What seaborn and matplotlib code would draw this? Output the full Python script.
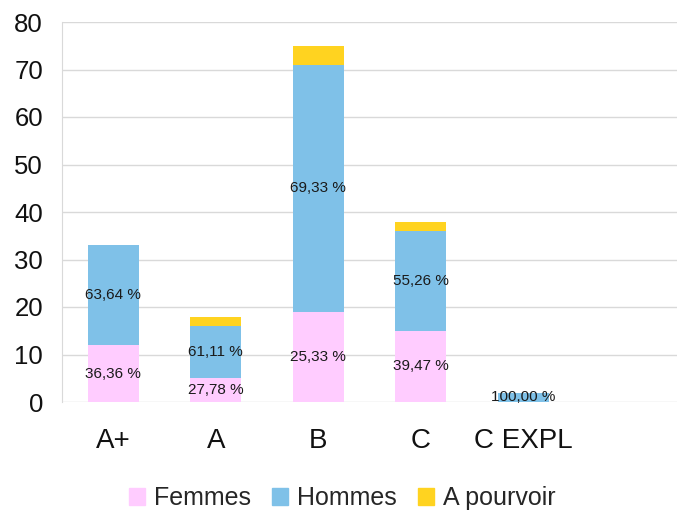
import numpy as np
import pandas as pd
import matplotlib
matplotlib.use('Agg')
import matplotlib.pyplot as plt
import seaborn as sns
from matplotlib.patches import Patch
from matplotlib.ticker import FixedLocator

# ─── données ───
categories = ['A+', 'A', 'B', 'C', 'C EXPL']
femmes = [12, 5, 19, 15, 0]
hommes = [21, 11, 52, 21, 2]
a_pourvoir = [0, 2, 4, 2, 0]

COL_F = '#ffccff'
COL_H = '#7fc1e8'
COL_P = '#ffd320'
GRID = '#d9d9d9'

sns.set_style('white')
plt.rcParams['font.family'] = ['Liberation Sans', 'DejaVu Sans']

df = pd.DataFrame({'cat': categories, 'Femmes': femmes,
                   'Hommes': hommes, 'A pourvoir': a_pourvoir})
df['fh'] = df['Femmes'] + df['Hommes']
df['total'] = df['fh'] + df['A pourvoir']

fig = plt.figure(figsize=(6.84, 5.13), dpi=100)
ax = fig.add_axes([62 / 684, 1 - 402 / 513, 615 / 684, 380 / 513])

# empilement : total, puis F+H, puis F par-dessus
sns.barplot(data=df, x='cat', y='total', color=COL_P, width=0.5,
            saturation=1, linewidth=0, ax=ax, zorder=3)
sns.barplot(data=df, x='cat', y='fh', color=COL_H, width=0.5,
            saturation=1, linewidth=0, ax=ax, zorder=3)
sns.barplot(data=df, x='cat', y='Femmes', color=COL_F, width=0.5,
            saturation=1, linewidth=0, ax=ax, zorder=3)

# étiquettes en pourcentage
for i, row in df.iterrows():
    t = row['total']
    if row['Femmes'] > 0:
        ax.text(i, row['Femmes'] / 2, f"{row['Femmes'] / t * 100:.2f} %".replace('.', ','),
                ha='center', va='center', fontsize=11, color='#1a1a1a', zorder=4)
    if row['Hommes'] > 0:
        ax.text(i, row['Femmes'] + row['Hommes'] / 2,
                f"{row['Hommes'] / t * 100:.2f} %".replace('.', ','),
                ha='center', va='center', fontsize=11, color='#1a1a1a', zorder=4)

ax.set_xlim(-0.5, 5.5)
ax.set_ylim(0, 80)
ax.set_yticks(range(0, 81, 10))
ax.yaxis.grid(True, color=GRID, lw=1, zorder=0)
ax.set_xlabel('')
ax.set_ylabel('')

for s in ['top', 'right', 'bottom']:
    ax.spines[s].set_visible(False)
ax.spines['left'].set_color(GRID)
ax.spines['left'].set_bounds(0, 80)

# longueurs en points (px * 0.72)
ax.tick_params(axis='y', length=8.6, color=GRID, labelsize=18.5, pad=5, labelcolor='#111111')
ax.tick_params(axis='x', which='major', length=0, labelsize=20, pad=19, labelcolor='#111111')
ax.xaxis.set_minor_locator(FixedLocator(np.arange(-0.5, 5.6, 1)))
ax.tick_params(axis='x', which='minor', length=8, color=GRID, width=1)

handles = [Patch(color=COL_F, label='Femmes'),
           Patch(color=COL_H, label='Hommes'),
           Patch(color=COL_P, label='A pourvoir')]
fig.legend(handles=handles, loc='center', bbox_to_anchor=(0.5, 1 - 498 / 513),
           ncol=3, frameon=False, fontsize=18, handlelength=0.65, handleheight=0.65,
           handletextpad=0.35, columnspacing=0.85)

fig.savefig('out.png', dpi=100)
